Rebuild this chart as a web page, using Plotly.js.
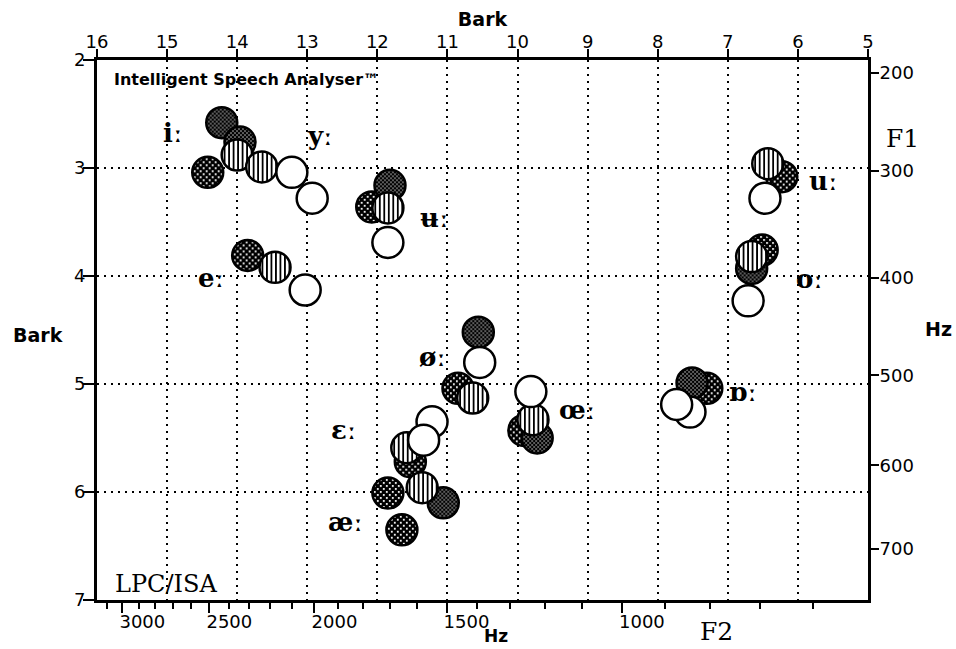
<!DOCTYPE html>
<html>
<head>
<meta charset="utf-8">
<script src="https://cdn.plot.ly/plotly-3.0.1.min.js"></script>
<style>
  html, body { margin: 0; padding: 0; background: #fff; }
  #chart { width: 956px; height: 649px; }
</style>
</head>
<body>
<div id="chart"></div>
<script>
// ---- Data (formant values in Bark: F2 horizontal, F1 vertical) ----
// four speakers / conditions, each drawn with its own fill pattern
const coarseF2  = [14.42, 12.08, 13.85, 6.23, 6.51, 10.85, 9.91, 7.30, 11.53, 11.85, 11.65];
const coarseF1  = [3.04, 3.36, 3.81, 3.08, 3.76, 5.04, 5.43, 5.04, 5.72, 6.01, 6.35];

const fineF2    = [14.22, 13.96, 11.82, 6.66, 10.56, 9.72, 7.51, 11.06];
const fineF1    = [2.58, 2.76, 3.16, 3.93, 4.52, 5.50, 4.99, 6.10];

const stripedF2 = [14.00, 13.65, 11.85, 13.46, 6.43, 6.66, 10.64, 9.78, 11.58, 11.36];
const stripedF1 = [2.88, 2.99, 3.37, 3.92, 2.96, 3.82, 5.13, 5.33, 5.59, 5.96];

const openF2    = [13.22, 12.93, 11.85, 13.03, 6.47, 6.71, 10.54, 9.81, 7.54, 7.73, 11.22, 11.34];
const openF1    = [3.04, 3.28, 3.69, 4.13, 3.28, 4.23, 4.80, 5.07, 5.26, 5.19, 5.35, 5.52];

// vowel labels
const vowels       = ['iː', 'yː', 'ʉː', 'eː', 'uː', 'oː', 'øː', 'ɛː', 'œː', 'ɒː', 'æː'];
const vowelLabelF2 = [14.93, 12.82, 11.19, 14.37, 5.63, 5.83, 11.21, 12.48, 9.15, 6.78, 12.46];
const vowelLabelF1 = [2.68, 2.70, 3.46, 4.02, 3.12, 4.03, 4.75, 5.43, 5.24, 5.07, 6.28];

// tick labels
const barkF2Ticks = [16, 15, 14, 13, 12, 11, 10, 9, 8, 7, 6, 5];
const barkF1Ticks = [2, 3, 4, 5, 6, 7];
const hzF2Major   = [3000, 2500, 2000, 1500, 1000];
const hzF2Minor   = [3100, 3000, 2900, 2800, 2700, 2600, 2500, 2400, 2300, 2200, 2100, 2000,
                     1900, 1800, 1700, 1600, 1500, 1400, 1300, 1200, 1100, 1000, 900, 800, 700, 600];
const hzF1Ticks   = [200, 300, 400, 500, 600, 700];

// ---- Hz -> Bark scale conversions for the secondary axes ----
function hzToBarkF2(f) { return 7 * Math.asinh(f / 650); }               // Schroeder
function hzToBarkF1(f) { return Math.max(26.81 * f / (1960 + f) - 0.53, 2.12); } // Traunmüller, kept inside frame

const black = '#000';
const tickFont  = { family: 'DejaVu Sans, sans-serif', size: 18, color: black };
const titleFont = { family: 'DejaVu Sans, sans-serif', size: 19, color: black, weight: 'bold' };
const vowelFont = { family: 'DejaVu Serif, serif', size: 26, color: black, weight: 'bold' };
const serifFont = { family: 'DejaVu Serif, serif', size: 25, color: black };

function circleTrace(name, xs, ys, fill) {
  return {
    type: 'scatter', mode: 'markers', name: name,
    x: xs, y: ys, xaxis: 'x', yaxis: 'y',
    marker: { symbol: 'circle', size: 31, color: fill, opacity: 1,
              line: { color: black, width: 2.5 } },
    hoverinfo: 'skip', showlegend: false
  };
}

const traces = [
  circleTrace('coarse', coarseF2, coarseF1, '#111'),
  circleTrace('fine', fineF2, fineF1, '#333'),
  circleTrace('striped', stripedF2, stripedF1, '#fff'),
  circleTrace('open', openF2, openF1, '#fff'),
  // empty traces so the Hz axes are instantiated
  { type: 'scatter', mode: 'markers', x: [], y: [], xaxis: 'x2', yaxis: 'y', showlegend: false, hoverinfo: 'skip' },
  { type: 'scatter', mode: 'markers', x: [], y: [], xaxis: 'x', yaxis: 'y2', showlegend: false, hoverinfo: 'skip' }
];

const annotations = vowels.map((v, i) => ({
  text: v, x: vowelLabelF2[i], y: vowelLabelF1[i], xref: 'x', yref: 'y',
  xanchor: 'center', yanchor: 'middle', showarrow: false, font: vowelFont
}));

annotations.push(
  { text: 'Intelligent Speech Analyser™', xref: 'paper', yref: 'paper', x: 0.0195, y: 0.963,
    xanchor: 'left', yanchor: 'middle', showarrow: false,
    font: { family: 'DejaVu Sans, sans-serif', size: 16, color: black, weight: 'bold' } },
  { text: 'LPC/ISA', xref: 'paper', yref: 'paper', x: 0.0208, y: 0.0296,
    xanchor: 'left', yanchor: 'middle', showarrow: false, font: { family: 'DejaVu Serif, serif', size: 24, color: black } },
  { text: 'F1', xref: 'paper', yref: 'paper', x: 1.045, y: 0.855,
    xanchor: 'center', yanchor: 'middle', showarrow: false, font: serifFont },
  { text: 'F2', xref: 'paper', yref: 'paper', x: 0.804, y: -0.059,
    xanchor: 'center', yanchor: 'middle', showarrow: false, font: serifFont },
  { text: 'Bark', xref: 'paper', yref: 'paper', x: -0.0765, y: 0.491,
    xanchor: 'center', yanchor: 'middle', showarrow: false, font: titleFont },
  { text: 'Hz', xref: 'paper', yref: 'paper', x: 1.1115, y: 0.502,
    xanchor: 'right', yanchor: 'middle', showarrow: false, font: titleFont },
  { text: 'Hz', xref: 'paper', yref: 'paper', x: 0.5175, y: -0.0889,
    xanchor: 'center', yanchor: 'bottom', showarrow: false,
    font: { family: 'DejaVu Sans, sans-serif', size: 17, color: black, weight: 'bold' } }
);

const axisCommon = {
  autorange: false, zeroline: false, showline: true, linecolor: black, linewidth: 3,
  ticks: 'outside', tickcolor: black, tickwidth: 2, tickfont: tickFont, tickmode: 'array'
};

const layout = {
  width: 956, height: 649,
  margin: { l: 97, r: 88, t: 60, b: 49, pad: 0 },
  paper_bgcolor: '#fff', plot_bgcolor: '#fff',
  showlegend: false,
  xaxis: Object.assign({}, axisCommon, {
    side: 'top', anchor: 'y', range: [16, 5],
    tickvals: barkF2Ticks, ticktext: barkF2Ticks.map(String), ticklen: 8,
    ticklabelstandoff: -6,
    showgrid: true, gridcolor: black, gridwidth: 2, griddash: '2px,5px',
    title: { text: 'Bark', font: titleFont, standoff: 0 }
  }),
  xaxis2: Object.assign({}, axisCommon, {
    overlaying: 'x', side: 'bottom', anchor: 'y', range: [16, 5],
    tickvals: hzF2Major.map(hzToBarkF2), ticktext: hzF2Major.map(String), ticklen: 10,
    ticklabelshift: -20, ticklabelstandoff: -7, showgrid: false,
    minor: { tickmode: 'array', tickvals: hzF2Minor.map(hzToBarkF2), ticks: 'outside',
             ticklen: 6, tickwidth: 2, tickcolor: black, showgrid: false }
  }),
  yaxis: Object.assign({}, axisCommon, {
    side: 'left', anchor: 'x', range: [7, 2],
    tickvals: barkF1Ticks, ticktext: barkF1Ticks.map(String), ticklen: 11,
    ticklabelstandoff: -6,
    showgrid: true, gridcolor: black, gridwidth: 2, griddash: '2px,5px'
  }),
  yaxis2: Object.assign({}, axisCommon, {
    overlaying: 'y', side: 'right', anchor: 'x', range: [7, 2],
    tickvals: hzF1Ticks.map(hzToBarkF1), ticktext: hzF1Ticks.map(String), ticklen: 8,
    ticklabelstandoff: -3, showgrid: false
  }),
  annotations: annotations
};

function addPatterns(gd) {
  const NS = 'http://www.w3.org/2000/svg';
  const svg = gd.querySelector('svg.main-svg');
  let defs = svg.querySelector('defs');
  if (!defs) { defs = document.createElementNS(NS, 'defs'); svg.insertBefore(defs, svg.firstChild); }
  function mk(tag, attrs, parent) {
    const e = document.createElementNS(NS, tag);
    for (const k in attrs) e.setAttribute(k, attrs[k]);
    parent.appendChild(e);
    return e;
  }
  // fine stipple
  let p = mk('pattern', { id: 'pat-fine', patternUnits: 'userSpaceOnUse', width: 4, height: 4 }, defs);
  mk('rect', { x: 0, y: 0, width: 4, height: 4, fill: '#000' }, p);
  mk('rect', { x: 0.4, y: 0.4, width: 1.2, height: 1.2, fill: '#fff' }, p);
  mk('rect', { x: 2.4, y: 2.4, width: 1.2, height: 1.2, fill: '#fff' }, p);
  // coarse dots
  p = mk('pattern', { id: 'pat-coarse', patternUnits: 'userSpaceOnUse', width: 6, height: 6 }, defs);
  mk('rect', { x: 0, y: 0, width: 6, height: 6, fill: '#000' }, p);
  mk('rect', { x: 1, y: 1, width: 1.8, height: 1.8, fill: '#fff' }, p);
  mk('rect', { x: 4, y: 4, width: 1.8, height: 1.8, fill: '#fff' }, p);
  // vertical stripes
  p = mk('pattern', { id: 'pat-striped', patternUnits: 'userSpaceOnUse', width: 4.5, height: 4 }, defs);
  mk('rect', { x: 0, y: 0, width: 4.5, height: 4, fill: '#fff' }, p);
  mk('rect', { x: 0, y: 0, width: 1.8, height: 4, fill: '#000' }, p);

  const patFor = { coarse: 'pat-coarse', fine: 'pat-fine', striped: 'pat-striped' };
  gd.querySelectorAll('g.trace').forEach(g => {
    const d = g.__data__;
    const tr = d && d[0] && d[0].trace;
    if (!tr || !patFor[tr.name]) return;
    g.querySelectorAll('path.point').forEach(pt => {
      pt.style.fill = 'url(#' + patFor[tr.name] + ')';
      pt.style.fillOpacity = 1;
    });
  });
}

Plotly.newPlot('chart', traces, layout, { staticPlot: true, displayModeBar: false })
  .then(addPatterns);
</script>
</body>
</html>
